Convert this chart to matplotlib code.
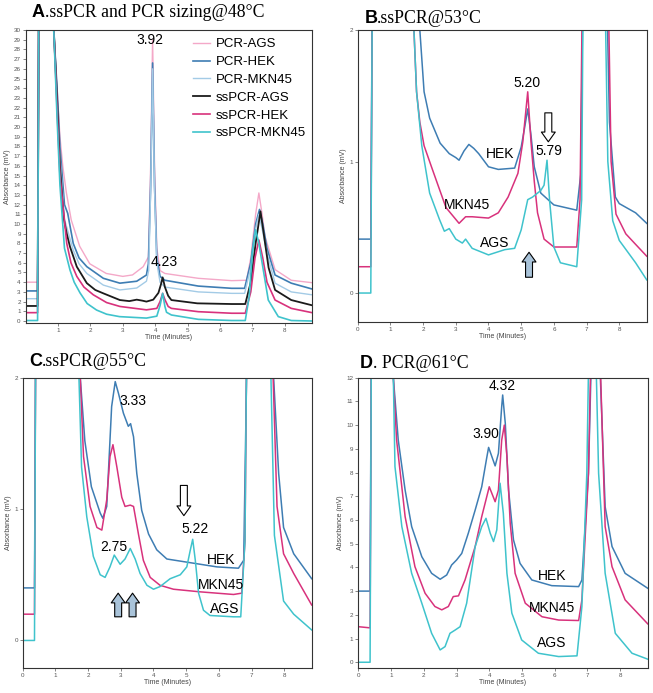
import matplotlib
matplotlib.use("Agg")
import matplotlib.pyplot as plt

# ---------------- data ----------------
# Panel A: ssPCR and PCR sizing @48C, six traces
a_pcr_ags_t = [0, 0.37, 0.41, 0.87, 0.97, 1.06, 1.15, 1.26, 1.41, 1.67, 1.98, 2.49, 3.0, 3.3, 3.63, 3.79, 3.86, 3.92,
               3.98, 4.05, 4.15, 4.3, 5.33, 6.36, 6.82, 6.95, 7.1, 7.2, 7.3, 7.39, 7.7, 8.2, 8.84]
a_pcr_ags_v = [4.0, 4.0, 35, 30, 24, 19, 15.9, 13.2, 10.4, 7.7, 5.9, 4.9, 4.6, 4.75, 5.6, 6.6, 16, 29.0,
               16, 7.5, 5.2, 4.9, 4.4, 4.16, 4.2, 6.5, 11, 13.2, 11, 8.7, 5.3, 4.2, 3.95]

a_pcr_hek_t = [0, 0.37, 0.41, 0.87, 0.97, 1.06, 1.2, 1.3, 1.47, 1.65, 1.89, 2.4, 2.91, 3.43, 3.73, 3.79, 3.86, 3.92,
               3.98, 4.05, 4.15, 4.3, 5.33, 6.36, 6.76, 6.95, 7.1, 7.22, 7.32, 7.45, 7.7, 8.2, 8.84]
a_pcr_hek_v = [3.1, 3.1, 35, 30, 24, 18, 12, 11.1, 8.0, 6.5, 5.6, 4.4, 3.9, 4.1, 4.74, 5.9, 14, 26.6,
               14, 6.5, 4.6, 4.2, 3.6, 3.37, 3.37, 6, 10, 11.5, 10, 7.5, 4.74, 3.9, 3.3]

a_pcr_mkn_t = [0, 0.37, 0.41, 0.87, 0.97, 1.06, 1.2, 1.47, 1.65, 1.89, 2.4, 2.91, 3.43, 3.73, 3.8, 3.86, 3.92, 3.98,
               4.05, 4.15, 4.3, 5.33, 6.36, 6.76, 6.95, 7.1, 7.2, 7.3, 7.45, 7.7, 8.2, 8.84]
a_pcr_mkn_v = [2.3, 2.3, 35, 30, 23, 17, 10.5, 7.3, 5.9, 4.9, 3.7, 3.2, 3.4, 4.1, 5.2, 13.5, 26.0, 13.5,
               6, 4, 3.5, 3.0, 2.85, 2.85, 5.5, 9.5, 11.0, 9.5, 7, 3.9, 3.0, 2.7]

a_ss_ags_t = [0, 0.37, 0.41, 0.87, 0.97, 1.06, 1.18, 1.27, 1.37, 1.58, 1.89, 2.15, 2.4, 2.91, 3.2, 3.43, 3.6, 3.73,
              3.94, 4.1, 4.18, 4.23, 4.3, 4.4, 4.5, 5.3, 6.36, 6.78, 6.95, 7.1, 7.25, 7.35, 7.5, 7.7, 8.2, 8.84]
a_ss_ags_v = [1.55, 1.55, 35, 30, 23, 16, 10.5, 9.0, 7.66, 5.6, 3.9, 3.2, 2.85, 2.16, 2.05, 2.2, 2.1, 2.0,
              2.2, 2.9, 3.8, 4.5, 3.5, 2.6, 2.16, 1.82, 1.75, 1.75, 4, 8, 11.3, 9, 5.5, 3.2, 2.16, 1.62]

a_ss_hek_t = [0, 0.37, 0.41, 0.87, 0.97, 1.06, 1.27, 1.4, 1.58, 1.8, 2.09, 2.5, 2.91, 3.73, 4.05, 4.15, 4.23, 4.3,
              4.4, 4.5, 5.33, 6.36, 6.78, 6.95, 7.08, 7.2, 7.32, 7.45, 7.7, 8.2, 8.84]
a_ss_hek_v = [0.86, 0.86, 35, 30, 22, 15, 8.0, 6.0, 4.6, 3.5, 2.7, 1.9, 1.5, 1.15, 1.3, 2.0, 2.85, 2.2,
              1.5, 1.3, 0.96, 0.8, 0.8, 3, 6.5, 8.35, 6.5, 4, 2.16, 1.3, 0.86]

a_ss_mkn_t = [0, 0.37, 0.41, 0.87, 0.97, 1.06, 1.2, 1.37, 1.5, 1.68, 1.9, 2.19, 2.5, 2.9, 3.73, 4.05, 4.15, 4.23,
              4.3, 4.35, 4.5, 5.33, 6.36, 6.78, 6.9, 7.0, 7.1, 7.2, 7.3, 7.49, 7.8, 8.2, 8.84]
a_ss_mkn_v = [0.05, 0.05, 35, 30, 21, 14, 7.5, 5.26, 4.0, 2.9, 1.8, 1.13, 0.7, 0.45, 0.3, 0.5, 1.6, 2.85,
              1.5, 0.9, 0.62, 0.17, 0.05, 0.05, 2.5, 7, 9.4, 8, 6, 2.16, 0.45, 0.05, 0.0]

a_labels = ["PCR-AGS", "PCR-HEK", "PCR-MKN45", "ssPCR-AGS", "ssPCR-HEK", "ssPCR-MKN45"]

# Panel B: ssPCR @53C
b_hek_t = [0, 0.4, 0.45, 1.9, 2.03, 2.2, 2.52, 2.8, 3.0, 3.1, 3.25, 3.4, 3.55, 3.7, 4.0, 4.3, 4.8, 5.0, 5.1, 5.2,
           5.3, 5.4, 5.6, 6.0, 6.7, 6.82, 6.9, 7.6, 7.7, 7.88, 8.0, 8.5, 8.84]
b_hek_v = [0.41, 0.41, 2.5, 2.0, 1.53, 1.33, 1.14, 1.06, 1.03, 1.01, 1.08, 1.13, 1.1, 1.06, 0.96, 0.94, 0.95, 1.11,
           1.25, 1.40, 1.2, 0.96, 0.76, 0.67, 0.63, 0.9, 2.5, 2.5, 1.3, 0.73, 0.68, 0.61, 0.53]

b_mkn_t = [0, 0.4, 0.45, 1.72, 1.8, 1.9, 2.03, 2.27, 2.47, 2.7, 3.0, 3.1, 3.3, 3.5, 4.0, 4.3, 4.6, 4.9, 5.05, 5.2,
           5.3, 5.4, 5.5, 5.7, 6.0, 6.7, 6.8, 6.88, 7.65, 7.75, 7.9, 8.2, 8.5, 8.84]
b_mkn_v = [0.2, 0.2, 2.5, 2.0, 1.53, 1.3, 1.12, 0.95, 0.81, 0.65, 0.56, 0.53, 0.58, 0.58, 0.57, 0.61, 0.73, 0.91,
           1.15, 1.53, 1.15, 0.85, 0.61, 0.41, 0.35, 0.35, 0.71, 2.5, 2.5, 1.0, 0.6, 0.45, 0.37, 0.28]

b_ags_t = [0, 0.4, 0.45, 1.72, 1.8, 1.96, 2.2, 2.5, 2.65, 2.8, 3.0, 3.2, 3.3, 3.5, 4.0, 4.5, 4.8, 5.0, 5.2, 5.35,
           5.6, 5.7, 5.79, 5.87, 6.0, 6.2, 6.7, 6.85, 6.9, 7.55, 7.65, 7.8, 8.0, 8.5, 8.84]
b_ags_v = [0.0, 0.0, 2.5, 2.0, 1.53, 1.12, 0.76, 0.56, 0.47, 0.49, 0.41, 0.38, 0.41, 0.34, 0.29, 0.33, 0.34, 0.48,
           0.71, 0.73, 0.78, 0.82, 1.01, 0.7, 0.35, 0.23, 0.2, 0.71, 2.5, 2.5, 1.0, 0.55, 0.4, 0.23, 0.1]

# Panel C: ssPCR @55C
c_hek_t = [0, 0.36, 0.4, 1.76, 1.9, 2.1, 2.37, 2.45, 2.57, 2.72, 2.83, 2.93, 3.08, 3.23, 3.3, 3.39, 3.49, 3.64,
           3.85, 4.1, 4.41, 4.92, 5.43, 5.94, 6.6, 6.76, 6.88, 7.57, 7.83, 7.98, 8.29, 8.84]
c_hek_v = [0.4, 0.4, 2.5, 2.0, 1.52, 1.17, 0.97, 0.93, 1.02, 1.78, 1.97, 1.88, 1.73, 1.63, 1.65, 1.55, 1.27, 0.99,
           0.81, 0.69, 0.62, 0.60, 0.58, 0.56, 0.55, 0.61, 2.5, 2.5, 1.27, 0.86, 0.66, 0.47]

c_mkn_t = [0, 0.36, 0.4, 1.76, 1.86, 2.06, 2.27, 2.42, 2.57, 2.67, 2.76, 2.88, 3.03, 3.13, 3.29, 3.39, 3.54, 3.69,
           3.9, 4.2, 4.61, 5.43, 6.45, 6.7, 6.8, 6.86, 7.6, 7.78, 7.98, 8.29, 8.84]
c_mkn_v = [0.2, 0.2, 2.5, 2.0, 1.4, 1.02, 0.86, 0.84, 1.07, 1.4, 1.49, 1.32, 1.09, 1.02, 1.03, 1.02, 0.81, 0.61,
           0.48, 0.42, 0.39, 0.37, 0.35, 0.36, 0.76, 2.5, 2.5, 1.02, 0.66, 0.51, 0.27]

c_ags_t = [0, 0.36, 0.4, 1.72, 1.8, 1.96, 2.16, 2.37, 2.52, 2.67, 2.8, 2.98, 3.13, 3.29, 3.44, 3.59, 3.8, 4.0, 4.2,
           4.51, 4.82, 5.02, 5.12, 5.2, 5.28, 5.38, 5.53, 5.73, 6.45, 6.67, 6.8, 6.86, 7.55, 7.7, 7.98, 8.29, 8.84]
c_ags_v = [0.0, 0.0, 2.5, 2.0, 1.32, 0.94, 0.64, 0.50, 0.48, 0.56, 0.65, 0.58, 0.62, 0.70, 0.62, 0.51, 0.42, 0.39,
           0.41, 0.47, 0.50, 0.56, 0.68, 0.77, 0.61, 0.36, 0.23, 0.19, 0.18, 0.18, 0.76, 2.5, 2.5, 0.8, 0.3, 0.2, 0.08]

# Panel D: PCR @61C
d_hek_t = [0, 0.36, 0.4, 1.07, 1.22, 1.43, 1.63, 1.94, 2.24, 2.5, 2.7, 2.85, 3.0, 3.16, 3.36, 3.57, 3.77, 3.92,
           3.98, 4.08, 4.18, 4.28, 4.38, 4.41, 4.49, 4.59, 4.74, 4.94, 5.3, 5.91, 6.73, 6.83, 7.03, 7.14, 7.34, 7.54,
           7.75, 8.15, 8.84]
d_hek_v = [3.0, 3.0, 14, 12, 9.37, 7.26, 5.72, 4.45, 3.75, 3.5, 3.68, 4.1, 4.31, 4.59, 5.44, 6.42, 7.4, 8.6,
           9.06, 8.67, 8.28, 8.81, 10.78, 11.27, 10.07, 7.26, 5.16, 4.17, 3.47, 3.23, 3.19, 3.47, 7.97, 14, 14, 6.56,
           4.88, 3.75, 3.12]

d_mkn_t = [0, 0.36, 0.4, 1.07, 1.17, 1.43, 1.73, 2.04, 2.34, 2.55, 2.75, 2.9, 3.06, 3.26, 3.57, 3.77, 4.0, 4.18,
           4.28, 4.38, 4.46, 4.54, 4.64, 4.79, 5.1, 5.61, 6.12, 6.73, 6.83, 7.03, 7.12, 7.36, 7.54, 7.75, 8.15, 8.84]
d_mkn_v = [1.5, 1.45, 14, 12, 9.37, 6.14, 4.03, 2.91, 2.35, 2.21, 2.35, 2.77, 2.8, 3.47, 4.88, 6.14, 7.4, 6.77,
           7.26, 9.37, 10.0, 8.67, 5.86, 3.75, 2.49, 1.92, 1.78, 1.76, 2.63, 7.97, 14, 14, 5.72, 4.03, 2.63, 1.62]

d_ags_t = [0, 0.36, 0.4, 1.07, 1.12, 1.33, 1.63, 1.94, 2.24, 2.5, 2.65, 2.8, 2.96, 3.11, 3.31, 3.57, 3.77, 3.9,
           4.03, 4.13, 4.23, 4.33, 4.43, 4.54, 4.69, 4.99, 5.5, 6.12, 6.68, 6.83, 6.98, 7.05, 7.24, 7.34, 7.54, 7.85,
           8.36, 8.84]
d_ags_v = [0.0, 0.0, 14, 12, 8.25, 5.72, 3.75, 2.49, 1.22, 0.52, 0.66, 1.22, 1.36, 1.5, 2.49, 4.88, 5.72, 6.07,
           5.44, 5.09, 5.58, 7.55, 6.28, 3.75, 2.07, 0.94, 0.38, 0.24, 0.27, 2.35, 7.97, 14, 14, 7.97, 3.75, 1.22,
           0.38, 0.13]

# ---------------- colours ----------------
PINK = "#f4a8c8"
BLUE = "#3e7db3"
LBLUE = "#a3cbe6"
BLACK = "#1b1b1b"
MAGENTA = "#d8327c"
CYAN = "#3fc3cc"
ARROW_FILL = "#a9c3d9"

TICK_FS = 4.5
TXT_FS = 10


def style_axes(ax, ymin, ymax, yticks, xticks):
    """Common frame / tick styling for one chromatogram panel."""
    ax.set_xlim(0, 8.84)
    ax.set_ylim(ymin, ymax)
    ax.set_xticks(xticks)
    ax.set_yticks(yticks)
    ax.tick_params(labelsize=TICK_FS, length=2, width=0.5, pad=1.5, colors="#555555")
    for side in ax.spines.values():
        side.set_linewidth(0.8)
        side.set_color("#333333")
    ax.set_xlabel("Time (Minutes)", fontsize=5, labelpad=1, color="#444444")
    ax.set_ylabel("Absorbance (mV)", fontsize=5, labelpad=2, color="#444444")


def panel_title(ax, letter, text, x, y):
    """Bold sans letter followed by a serif caption, like the original figure."""
    t1 = ax.text(x, y, letter, transform=ax.transAxes, fontsize=13, fontweight="bold",
                 family="Liberation Sans", va="baseline", ha="left")
    ax.annotate(text, xy=(1, 0), xycoords=t1, fontsize=12.8, family="Liberation Serif",
                va="bottom", ha="left")


def block_arrow(ax, x, y_tail, y_tip, fill):
    ax.annotate("", xy=(x, y_tip), xytext=(x, y_tail),
                arrowprops=dict(arrowstyle="simple,head_length=0.7,head_width=1.0,tail_width=0.5",
                                mutation_scale=10, fc=fill, ec="black", lw=0.8,
                                shrinkA=0, shrinkB=0))


plt.rcParams["font.family"] = ["Liberation Sans", "DejaVu Sans"]

fig = plt.figure(figsize=(6.53, 6.93), dpi=100)
axA = fig.add_axes([0.0392, 0.534, 0.4386, 0.4227])
axB = fig.add_axes([0.5478, 0.5354, 0.4426, 0.4213])
axC = fig.add_axes([0.0348, 0.036, 0.4425, 0.419])
axD = fig.add_axes([0.5487, 0.0365, 0.4432, 0.4185])

# ---------------- panel A ----------------
axA.plot(a_pcr_ags_t, a_pcr_ags_v, color=PINK, lw=1.0, label=a_labels[0])
axA.plot(a_pcr_hek_t, a_pcr_hek_v, color=BLUE, lw=1.2, label=a_labels[1])
axA.plot(a_pcr_mkn_t, a_pcr_mkn_v, color=LBLUE, lw=1.0, label=a_labels[2])
axA.plot(a_ss_ags_t, a_ss_ags_v, color=BLACK, lw=1.3, label=a_labels[3])
axA.plot(a_ss_hek_t, a_ss_hek_v, color=MAGENTA, lw=1.2, label=a_labels[4])
axA.plot(a_ss_mkn_t, a_ss_mkn_v, color=CYAN, lw=1.2, label=a_labels[5])
style_axes(axA, -0.2, 30, range(0, 31), range(1, 9))
axA.legend(loc="upper left", bbox_to_anchor=(0.585, 0.972), frameon=False, fontsize=9.5,
           handlelength=1.3, handletextpad=0.4, labelspacing=0.42, borderpad=0, borderaxespad=0)
axA.text(3.84, 29.0, "3.92", fontsize=TXT_FS, ha="center", va="center")
axA.text(4.27, 6.1, "4.23", fontsize=TXT_FS, ha="center", va="center")
panel_title(axA, "A", ".ssPCR and PCR sizing@48\u00b0C", 0.021, 1.043)

# ---------------- panel B ----------------
axB.plot(b_hek_t, b_hek_v, color=BLUE, lw=1.1)
axB.plot(b_mkn_t, b_mkn_v, color=MAGENTA, lw=1.1)
axB.plot(b_ags_t, b_ags_v, color=CYAN, lw=1.1)
style_axes(axB, -0.22, 2, [0, 1, 2], range(0, 9))
axB.text(5.17, 1.60, "5.20", fontsize=TXT_FS, ha="center", va="center")
axB.text(5.85, 1.08, "5.79", fontsize=TXT_FS, ha="center", va="center")
axB.text(4.35, 1.06, "HEK", fontsize=TXT_FS, ha="center", va="center")
axB.text(3.33, 0.67, "MKN45", fontsize=TXT_FS, ha="center", va="center")
axB.text(4.2, 0.38, "AGS", fontsize=TXT_FS, ha="center", va="center")
block_arrow(axB, 5.83, 1.37, 1.15, "white")
block_arrow(axB, 5.24, 0.12, 0.31, ARROW_FILL)
panel_title(axB, "B", ".ssPCR@53\u00b0C", 0.023, 1.025)

# ---------------- panel C ----------------
axC.plot(c_hek_t, c_hek_v, color=BLUE, lw=1.1)
axC.plot(c_mkn_t, c_mkn_v, color=MAGENTA, lw=1.1)
axC.plot(c_ags_t, c_ags_v, color=CYAN, lw=1.1)
style_axes(axC, -0.21, 2, [0, 1, 2], range(0, 9))
axC.text(3.38, 1.82, "3.33", fontsize=TXT_FS, ha="center", va="center")
axC.text(2.79, 0.71, "2.75", fontsize=TXT_FS, ha="center", va="center")
axC.text(5.27, 0.85, "5.22", fontsize=TXT_FS, ha="center", va="center")
axC.text(6.08, 0.61, "HEK", fontsize=TXT_FS, ha="center", va="center")
axC.text(6.08, 0.42, "MKN45", fontsize=TXT_FS, ha="center", va="center")
axC.text(6.19, 0.24, "AGS", fontsize=TXT_FS, ha="center", va="center")
block_arrow(axC, 4.93, 1.18, 0.95, "white")
block_arrow(axC, 2.92, 0.18, 0.36, ARROW_FILL)
block_arrow(axC, 3.36, 0.18, 0.36, ARROW_FILL)
panel_title(axC, "C", ".ssPCR@55\u00b0C", 0.023, 1.04)

# ---------------- panel D ----------------
axD.plot(d_hek_t, d_hek_v, color=BLUE, lw=1.1)
axD.plot(d_mkn_t, d_mkn_v, color=MAGENTA, lw=1.1)
axD.plot(d_ags_t, d_ags_v, color=CYAN, lw=1.1)
style_axes(axD, -0.23, 12, range(0, 13), range(0, 9))
axD.text(4.39, 11.63, "4.32", fontsize=TXT_FS, ha="center", va="center")
axD.text(3.9, 9.63, "3.90", fontsize=TXT_FS, ha="center", va="center")
axD.text(5.91, 3.65, "HEK", fontsize=TXT_FS, ha="center", va="center")
axD.text(5.91, 2.28, "MKN45", fontsize=TXT_FS, ha="center", va="center")
axD.text(5.91, 0.8, "AGS", fontsize=TXT_FS, ha="center", va="center")
panel_title(axD, "D", ". PCR@61\u00b0C", 0.006, 1.032)

fig.savefig("out.png", dpi=100)
